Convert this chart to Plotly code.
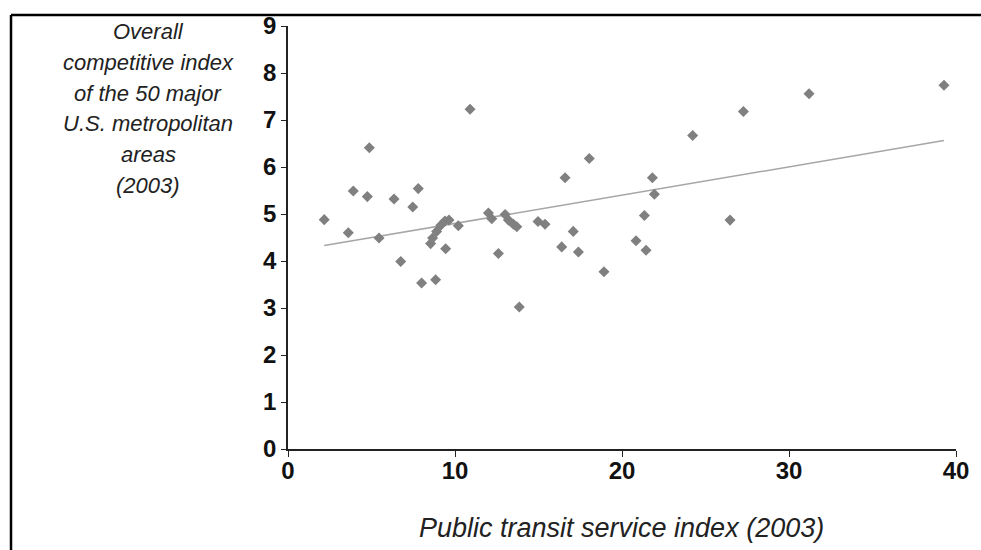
import numpy as np
import plotly.graph_objects as go

# Public transit service index (2003) vs overall competitive index (2003)
transit_index = [
    2.17, 3.91, 4.75, 3.61, 5.45, 6.35, 7.80, 7.47, 6.75, 8.00,
    8.84, 8.54, 8.66, 8.90, 9.15, 9.40, 9.64, 9.44, 10.20, 12.00,
    12.20, 12.60, 13.00, 13.20, 13.50, 13.70, 13.85, 4.87, 10.90, 14.97,
    15.39, 16.59, 18.04, 17.08, 16.39, 17.39, 18.92, 21.82, 21.94, 21.34,
    20.84, 21.44, 24.23, 27.27, 26.47, 31.20, 39.28,
]
competitive_index = [
    4.88, 5.49, 5.37, 4.60, 4.49, 5.32, 5.54, 5.15, 3.99, 3.53,
    3.60, 4.37, 4.49, 4.63, 4.76, 4.85, 4.87, 4.26, 4.75, 5.02,
    4.90, 4.16, 4.99, 4.87, 4.78, 4.73, 3.02, 6.41, 7.23, 4.84,
    4.78, 5.77, 6.18, 4.63, 4.30, 4.19, 3.77, 5.77, 5.42, 4.97,
    4.43, 4.23, 6.67, 7.18, 4.87, 7.56, 7.74,
]
x_ticks = [0, 10, 20, 30, 40]
y_ticks = [0, 1, 2, 3, 4, 5, 6, 7, 8, 9]
y_title_lines = ["Overall", "competitive index", "of the 50 major",
                 "U.S. metropolitan", "areas", "(2003)"]
x_title = "Public transit service index (2003)"

# Least-squares linear trend over the observed range
slope, intercept = np.polyfit(transit_index, competitive_index, 1)
trend_x = np.array([min(transit_index), max(transit_index)])
trend_y = slope * trend_x + intercept

FONT = "Liberation Sans, Arial, sans-serif"
W, H = 981, 550
L, R, T, B = 288, 25, 24, 101

fig = go.Figure()
fig.add_trace(go.Scatter(
    x=trend_x, y=trend_y, mode="lines",
    line=dict(color="#a6a6a6", width=1.5),
    hoverinfo="skip", showlegend=False,
))
fig.add_trace(go.Scatter(
    x=transit_index, y=competitive_index, mode="markers",
    marker=dict(symbol="diamond", size=8.5, color="#808080"),
    showlegend=False,
))

axis_common = dict(
    showgrid=False, zeroline=False, showline=True,
    linecolor="#222222", linewidth=1.5,
    ticks="outside", tickwidth=1.2, tickcolor="#222222",
    tickfont=dict(family=FONT, size=24, color="#111111", weight="bold"),
)
fig.update_xaxes(range=[0, 40], tickvals=x_ticks, ticklen=6,
                 ticklabelstandoff=-7, **axis_common)
fig.update_yaxes(range=[0, 9], tickvals=y_ticks, ticklen=5, **axis_common)

pw, ph = W - L - R, H - T - B

def px_x(p):
    return (p - L) / pw

def px_y(p):
    return (H - B - p) / ph

# Multi-line y-axis title, one annotation per line for wider leading
line_centres = [30, 61, 92, 122, 153, 184]
for text, yc in zip(y_title_lines, line_centres):
    fig.add_annotation(
        xref="paper", yref="paper", x=px_x(148), y=px_y(yc),
        xanchor="center", yanchor="middle", showarrow=False,
        text=text,
        font=dict(family=FONT, size=22, color="#222222", style="italic"),
    )
fig.add_annotation(
    xref="paper", yref="paper", x=px_x(621), y=px_y(528),
    xanchor="center", yanchor="middle", showarrow=False,
    text=x_title,
    font=dict(family=FONT, size=27, color="#222222", style="italic"),
)

# Frame along the top and left edges
fig.add_shape(type="line", xref="paper", yref="paper",
              x0=px_x(11), x1=px_x(W + 10), y0=px_y(13), y1=px_y(13),
              line=dict(color="black", width=2.5))
fig.add_shape(type="line", xref="paper", yref="paper",
              x0=px_x(11), x1=px_x(11), y0=px_y(13), y1=px_y(H + 10),
              line=dict(color="black", width=2.5))

fig.update_layout(
    width=W, height=H,
    margin=dict(l=L, r=R, t=T, b=B),
    paper_bgcolor="white", plot_bgcolor="white",
    showlegend=False,
)

fig.write_html("out.html")
